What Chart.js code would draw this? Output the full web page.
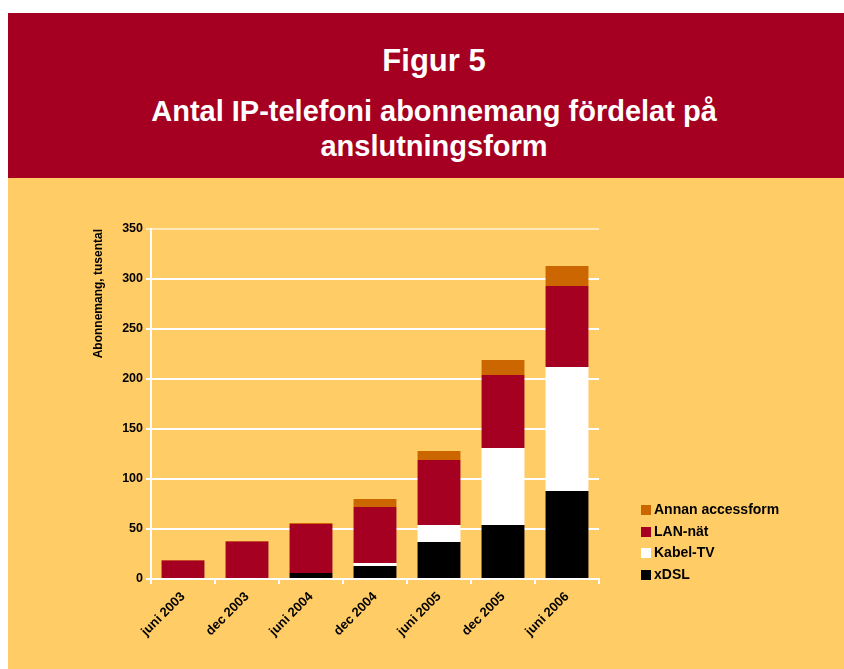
<!DOCTYPE html>
<html>
<head>
<meta charset="utf-8">
<script src="https://cdn.jsdelivr.net/npm/chart.js@4/dist/chart.umd.min.js"></script>
<style>
    body { margin: 0; width: 844px; height: 669px; overflow: hidden; background: #fff;
           font-family: "Liberation Sans", Arial, sans-serif; position: relative; }
    #banner { position: absolute; left: 8px; top: 13px; width: 860px; height: 165px; background: #A50021; }
    #panel  { position: absolute; left: 8px; top: 178px; width: 860px; height: 491px; background: #FFCC66; }
    .ttl { position: absolute; left: 0; width: 868px; text-align: center; color: #fff; font-weight: bold; }
    #fig { top: 45px; font-size: 31px; line-height: 31px; }
    #sub { top: 94px; font-size: 29px; line-height: 35px; }
    #chartBox { position: absolute; left: 8px; top: 178px; }
    #legend { position: absolute; left: 641px; top: 500px; font-size: 14px; font-weight: bold; color: #000; }
    #legend div { height: 21.5px; line-height: 18px; white-space: nowrap; }
    #legend span { display: inline-block; width: 10px; height: 10px; margin-right: 3px; vertical-align: -1px; }
</style>
</head>
<body>
<div id="banner"></div>
<div id="panel"></div>
<div class="ttl" id="fig">Figur 5</div>
<div class="ttl" id="sub">Antal IP-telefoni abonnemang fördelat på<br>anslutningsform</div>
<canvas id="chartBox" width="836" height="491"></canvas>
<div id="legend"></div>

<script>
// --- data (tusental abonnemang)
const labels = ["juni 2003", "dec 2003", "juni 2004", "dec 2004", "juni 2005", "dec 2005", "juni 2006"];
const xdsl   = [0, 0, 6, 13, 37, 54, 88];
const kabel  = [0, 0, 0, 3, 17, 77, 124];
const lan    = [18.5, 37.5, 49, 56, 65, 73, 81];
const annan  = [0.5, 0.5, 1, 8, 9, 15, 20];
const yTicks = [0, 50, 100, 150, 200, 250, 300, 350];

const fontFam = "'Liberation Sans', Arial, sans-serif";

const datasets = [
    { label: "xDSL",             data: xdsl,  backgroundColor: "#000000" },
    { label: "Kabel-TV",         data: kabel, backgroundColor: "#FFFFFF" },
    { label: "LAN-nät",          data: lan,   backgroundColor: "#A50021" },
    { label: "Annan accessform", data: annan, backgroundColor: "#CC6600" }
];
datasets.forEach(d => {
    d.borderWidth = 0;
    d.barPercentage = 0.67;
    d.categoryPercentage = 1;
});

new Chart(document.getElementById("chartBox"), {
    type: "bar",
    data: { labels: labels, datasets: datasets },
    options: {
        responsive: false,
        animation: false,
        devicePixelRatio: 1,
        layout: { padding: { left: 80, top: 51, right: 245, bottom: 0 } },
        plugins: {
            legend: { display: false },
            tooltip: { enabled: false }
        },
        scales: {
            x: {
                stacked: true,
                afterFit: s => { s.height = 90; },
                border: { color: "#fff", width: 2 },
                grid: { display: true, drawOnChartArea: false, color: "#fff", lineWidth: 2, tickLength: 5, offset: true },
                ticks: { color: "#000", font: { family: fontFam, size: 13, weight: "bold" },
                         maxRotation: 45, minRotation: 45, padding: 5 }
            },
            y: {
                stacked: true,
                min: 0,
                max: 350,
                afterFit: s => { s.width = 63; },
                afterBuildTicks: s => { s.ticks = yTicks.map(v => ({ value: v })); },
                border: { color: "#fff", width: 2 },
                grid: {
                    color: c => (c.tick && c.tick.value === 350) ? "rgba(255,255,255,0.55)" : "#fff",
                    lineWidth: 2,
                    tickLength: 5
                },
                ticks: { color: "#000", font: { family: fontFam, size: 12.5, weight: "bold" }, padding: 3 },
                title: {
                    display: true,
                    text: "Abonnemang, tusental",
                    color: "#000",
                    align: "end",
                    font: { family: fontFam, size: 12, weight: "bold" },
                    padding: { top: 3, bottom: 0 }
                }
            }
        }
    }
});

// legend, same order as the stack from top to bottom
document.getElementById("legend").innerHTML = datasets.slice().reverse().map(d =>
    `<div><span style="background:${d.backgroundColor}"></span>${d.label}</div>`
).join("");
</script>
</body>
</html>
